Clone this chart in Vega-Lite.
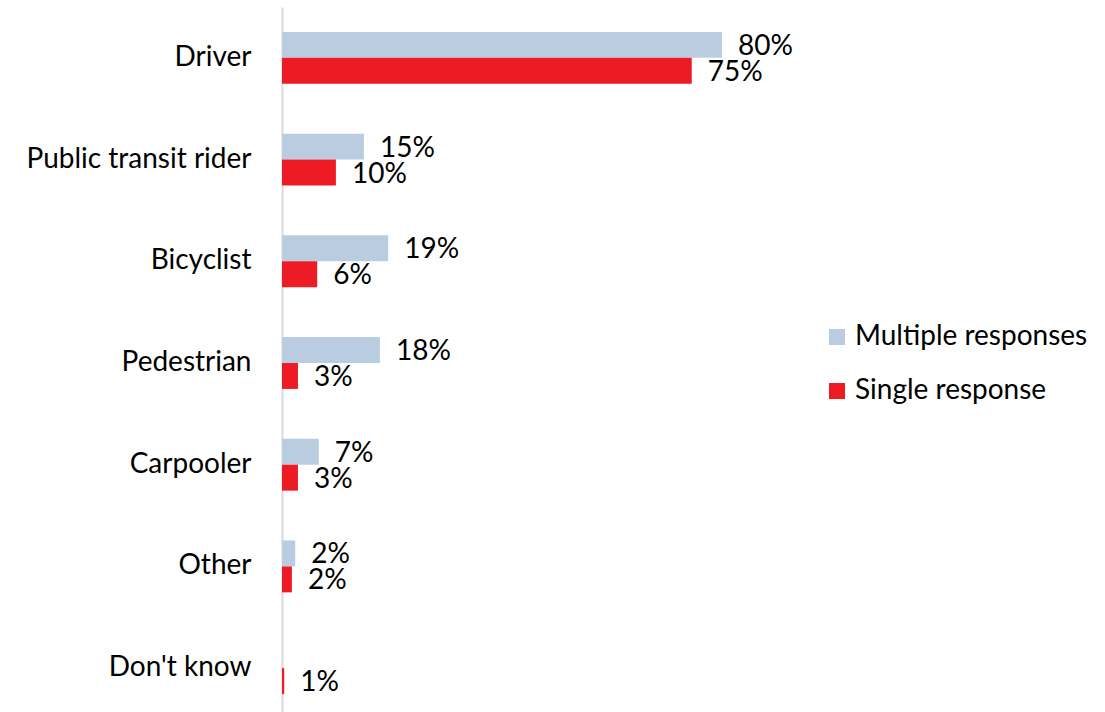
{
  "$schema": "https://vega.github.io/schema/vega-lite/v6.json",
  "width": 550,
  "height": 712,
  "autosize": {"type": "none"},
  "padding": {"left": 282, "top": 7, "right": 273, "bottom": 0},
  "config": {
    "view": {"stroke": null},
    "font": "Lato",
    "text": {"font": "Lato"}
  },
  "data": {
    "values": [
      {"role": "Driver", "type": "Multiple responses", "value": 80, "label": "80%"},
      {"role": "Driver", "type": "Single response", "value": 74.5, "label": "75%"},
      {"role": "Public transit rider", "type": "Multiple responses", "value": 14.9, "label": "15%"},
      {"role": "Public transit rider", "type": "Single response", "value": 9.8, "label": "10%"},
      {"role": "Bicyclist", "type": "Multiple responses", "value": 19.3, "label": "19%"},
      {"role": "Bicyclist", "type": "Single response", "value": 6.4, "label": "6%"},
      {"role": "Pedestrian", "type": "Multiple responses", "value": 17.8, "label": "18%"},
      {"role": "Pedestrian", "type": "Single response", "value": 2.9, "label": "3%"},
      {"role": "Carpooler", "type": "Multiple responses", "value": 6.7, "label": "7%"},
      {"role": "Carpooler", "type": "Single response", "value": 2.9, "label": "3%"},
      {"role": "Other", "type": "Multiple responses", "value": 2.4, "label": "2%"},
      {"role": "Other", "type": "Single response", "value": 1.8, "label": "2%"},
      {"role": "Don't know", "type": "Single response", "value": 0.4, "label": "1%"}
    ]
  },
  "encoding": {
    "y": {
      "field": "role",
      "type": "nominal",
      "sort": ["Driver", "Public transit rider", "Bicyclist", "Pedestrian", "Carpooler", "Other", "Don't know"],
      "scale": {"paddingInner": 0.49, "paddingOuter": 0.245},
      "axis": {
        "title": null,
        "ticks": false,
        "labelPadding": 31,
        "labelFontSize": 28,
        "labelLimit": 0,
        "labelColor": "#000000",
        "labelFont": "Lato",
        "domainColor": "#D9D9D9",
        "domainWidth": 2
      }
    },
    "yOffset": {
      "field": "type",
      "type": "nominal",
      "sort": ["Multiple responses", "Single response"],
      "scale": {"paddingInner": 0, "paddingOuter": 0}
    },
    "x": {
      "field": "value",
      "type": "quantitative",
      "scale": {"domain": [0, 100]},
      "axis": null
    }
  },
  "layer": [
    {
      "mark": {"type": "bar"},
      "encoding": {
        "color": {
          "field": "type",
          "type": "nominal",
          "sort": ["Multiple responses", "Single response"],
          "scale": {"domain": ["Multiple responses", "Single response"], "range": ["#BACDE0", "#ED1C24"]},
          "legend": {
            "title": null,
            "orient": "none",
            "legendX": 541,
            "legendY": 316,
            "symbolType": "square",
            "symbolSize": 256,
            "symbolStrokeWidth": 0,
            "labelFontSize": 28,
            "labelLimit": 0,
            "labelColor": "#000000",
            "labelFont": "Lato",
            "labelOffset": 4,
            "rowPadding": 26
          }
        }
      }
    },
    {
      "mark": {"type": "text", "align": "left", "baseline": "middle", "dx": 16, "dy": 2, "fontSize": 28, "color": "#000000"},
      "encoding": {"text": {"field": "label"}}
    }
  ]
}
